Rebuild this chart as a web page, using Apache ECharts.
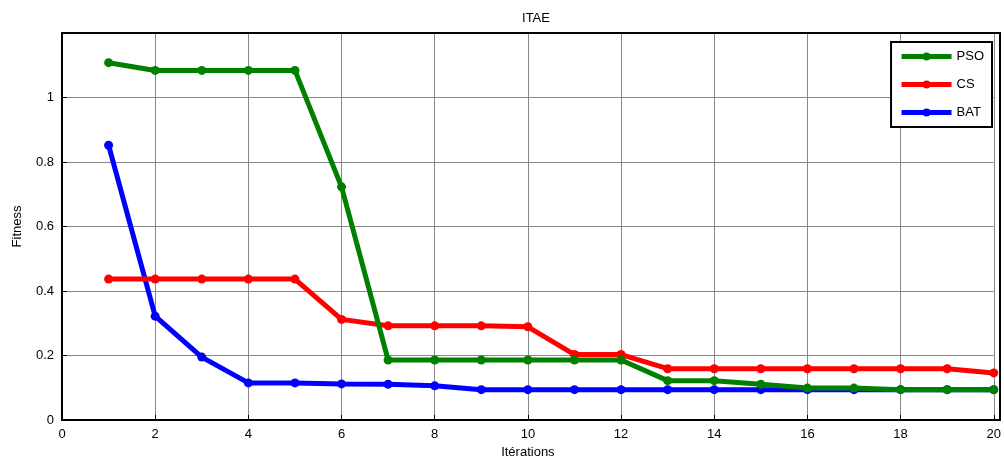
<!DOCTYPE html>
<html>
<head>
<meta charset="utf-8">
<script src="https://cdn.jsdelivr.net/npm/echarts@6/dist/echarts.min.js"></script>
<style>
  html, body { margin: 0; padding: 0; background: #fff; }
  #chart { width: 1004px; height: 466px; }
</style>
</head>
<body>
<div id="chart"></div>
<script>
const iterations = [1, 2, 3, 4, 5, 6, 7, 8, 9, 10, 11, 12, 13, 14, 15, 16, 17, 18, 19, 20];
const psoValues = [1.108, 1.084, 1.084, 1.084, 1.084, 0.723, 0.186, 0.186, 0.186, 0.186, 0.186, 0.186, 0.122, 0.122, 0.111, 0.099, 0.099, 0.094, 0.094, 0.094];
const csValues = [0.437, 0.437, 0.437, 0.437, 0.437, 0.312, 0.292, 0.292, 0.292, 0.289, 0.203, 0.203, 0.159, 0.159, 0.159, 0.159, 0.159, 0.159, 0.159, 0.146];
const batValues = [0.852, 0.322, 0.195, 0.115, 0.115, 0.112, 0.111, 0.106, 0.094, 0.094, 0.094, 0.094, 0.094, 0.094, 0.094, 0.094, 0.094, 0.094, 0.094, 0.094];

const font = 'Liberation Sans, Arial, sans-serif';

function pairs(vals) {
    return vals.map(function (v, i) { return [iterations[i], v]; });
}

function makeSeries(name, color, vals, z) {
    return {
        name: name,
        type: 'line',
        z: z,
        data: pairs(vals),
        symbol: 'circle',
        symbolSize: 9,
        lineStyle: { color: color, width: 5 },
        itemStyle: { color: color },
        emphasis: { disabled: true },
        animation: false
    };
}

const chart = echarts.init(document.getElementById('chart'));
chart.setOption({
    animation: false,
    title: {
        text: 'ITAE',
        left: 531,
        top: 7,
        textAlign: 'center',
        textStyle: { fontFamily: font, fontSize: 13, fontWeight: 'normal', color: '#000' }
    },
    legend: {
        right: 12,
        top: 42,
        orient: 'vertical',
        itemWidth: 50,
        itemHeight: 10,
        itemGap: 15,
        padding: [8, 8, 8, 8],
        borderColor: '#000',
        borderWidth: 2,
        backgroundColor: '#fff',
        lineStyle: { width: 5 },
        textStyle: { fontFamily: font, fontSize: 13, color: '#000' },
        data: ['PSO', 'CS', 'BAT']
    },
    grid: { left: 62, right: 4, top: 33, bottom: 46, containLabel: false },
    xAxis: {
        type: 'value',
        min: 0,
        max: 20,
        interval: 2,
        name: 'Itérations',
        nameLocation: 'middle',
        nameGap: 26,
        nameTextStyle: { fontFamily: font, fontSize: 13, color: '#000' },
        axisLine: { lineStyle: { color: '#000', width: 2 } },
        axisTick: { inside: true, length: 5, lineStyle: { color: '#000' } },
        axisLabel: { fontFamily: font, fontSize: 13, color: '#000', margin: 8 },
        splitLine: { show: true, lineStyle: { color: '#888', width: 1 } }
    },
    yAxis: {
        type: 'value',
        min: 0,
        max: 1.2,
        interval: 0.2,
        name: 'Fitness',
        nameLocation: 'middle',
        nameGap: 38,
        nameTextStyle: { fontFamily: font, fontSize: 13, color: '#000' },
        axisLine: { lineStyle: { color: '#000', width: 2 } },
        axisTick: { inside: true, length: 5, lineStyle: { color: '#000' } },
        axisLabel: {
            fontFamily: font, fontSize: 13, color: '#000', margin: 8,
            formatter: function (v) { return v >= 1.19 ? '' : String(Math.round(v * 10) / 10); }
        },
        splitLine: { show: true, lineStyle: { color: '#888', width: 1 } }
    },
    graphic: [{
        type: 'rect',
        shape: { x: 62, y: 33, width: 938, height: 387 },
        style: { fill: 'none', stroke: '#000', lineWidth: 2 },
        silent: true,
        z: 1
    }],
    series: [
        makeSeries('PSO', '#008000', psoValues, 4),
        makeSeries('CS', '#ff0000', csValues, 3),
        makeSeries('BAT', '#0000ff', batValues, 2)
    ]
});
</script>
</body>
</html>
